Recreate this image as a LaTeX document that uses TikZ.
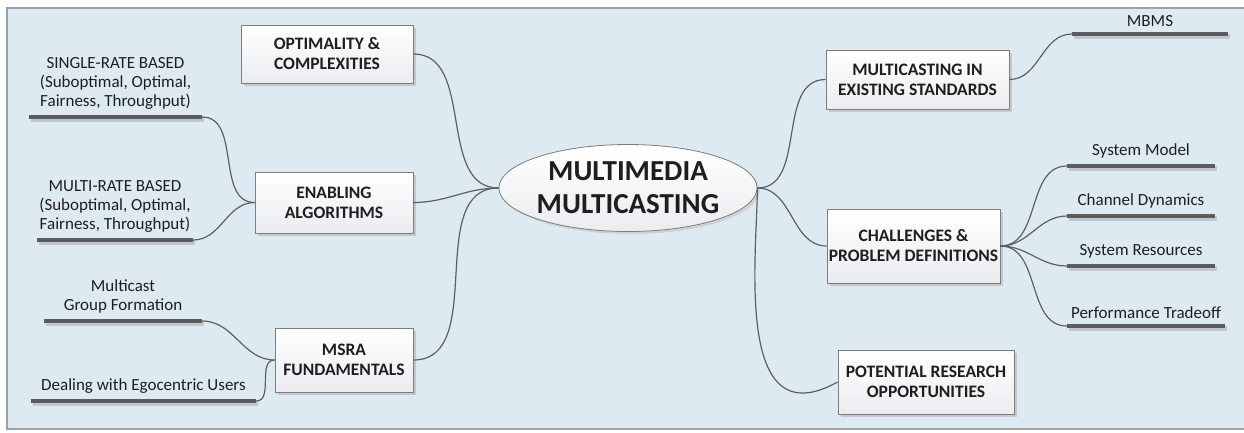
\documentclass[tikz,border=0pt]{standalone}
\usepackage{fontspec}
\setmainfont{Carlito}
\usetikzlibrary{shadows,shapes.geometric}
\definecolor{bgblue}{RGB}{222,234,242}
\definecolor{framegray}{RGB}{160,160,160}
\definecolor{conn}{RGB}{95,95,95}
\definecolor{barcol}{RGB}{92,92,92}
\definecolor{barshadow}{RGB}{192,199,206}
\definecolor{boxborder}{RGB}{125,125,125}
\definecolor{boxbottom}{RGB}{234,236,239}
\definecolor{txt}{RGB}{30,30,30}
\tikzset{
  topic/.style={draw=boxborder, line width=0.8pt, top color=white, bottom color=boxbottom,
    align=center, inner sep=0pt, text=txt,
    font=\fontsize{17.5}{20}\selectfont\bfseries,
    drop shadow={shadow xshift=2.5pt, shadow yshift=-2.5pt, fill=black!22, opacity=1}},
  centre/.style={ellipse, draw=boxborder, line width=0.8pt, top color=white, bottom color=boxbottom,
    align=center, inner sep=0pt, text=txt,
    font=\fontsize{29}{33}\selectfont\bfseries,
    drop shadow={shadow xshift=2.5pt, shadow yshift=-2.5pt, fill=black!18, opacity=1}},
  leafbar/.style={rectangle, fill=barcol, inner sep=0pt, minimum height=4.5pt,
    drop shadow={shadow xshift=1.5pt, shadow yshift=-2.5pt, fill=barshadow, opacity=1}},
  leaftext/.style={anchor=south, align=center, inner sep=0pt, text=txt,
    font=\fontsize{17}{19}\selectfont},
  link/.style={draw=conn, line width=1.2pt},
}
\begin{document}
\begin{tikzpicture}[x=1pt, y=-1pt]
\useasboundingbox (0,0) rectangle (1244,432);
% background frame
\fill[bgblue] (7,8) rectangle (1244,429);
\draw[framegray, line width=1.5pt] (1244,8) -- (7,8) -- (7,429) -- (1244,429);

% central
\node[centre, minimum width=251pt, minimum height=87pt] (c) at (628,188) {MULTIMEDIA\\MULTICASTING};

% topics
\node[topic, minimum width=172pt, minimum height=58pt] (opt) at (327,54) {OPTIMALITY \&\\COMPLEXITIES};
\node[topic, minimum width=158pt, minimum height=61pt] (ena) at (334,202.5) {ENABLING\\ALGORITHMS};
\node[topic, minimum width=138pt, minimum height=64pt] (msra) at (344,360) {MSRA\\FUNDAMENTALS};
\node[topic, minimum width=183pt, minimum height=59pt] (mul) at (917.5,79.5) {MULTICASTING IN\\EXISTING STANDARDS};
\node[topic, minimum width=173pt, minimum height=74pt] (cha) at (913.5,246) {CHALLENGES \&\\PROBLEM DEFINITIONS};
\node[topic, minimum width=176pt, minimum height=64pt] (pot) at (926,382) {POTENTIAL RESEARCH\\OPPORTUNITIES};

% leaf bars
\node[leafbar, minimum width=173pt] (lsr) at (115.5,117) {};
\node[leafbar, minimum width=156pt] (lmr) at (115,240) {};
\node[leafbar, minimum width=158pt] (lgf) at (123,321) {};
\node[leafbar, minimum width=225pt] (leg) at (143.5,401) {};
\node[leafbar, minimum width=156pt] (lmb) at (1150,34) {};
\node[leafbar, minimum width=148pt] (lsm) at (1141,166) {};
\node[leafbar, minimum width=148pt] (lcd) at (1141,216) {};
\node[leafbar, minimum width=148pt] (lrs) at (1141,266) {};
\node[leafbar, minimum width=158pt] (lpt) at (1146,326) {};

% leaf texts
\node[leaftext] (tsr) at ([yshift=5pt]lsr.north) {SINGLE-RATE BASED\\(Suboptimal, Optimal,\\Fairness, Throughput)};
\node[leaftext] (tmr) at ([yshift=5pt]lmr.north) {MULTI-RATE BASED\\(Suboptimal, Optimal,\\Fairness, Throughput)};
\node[leaftext] (tgf) at ([yshift=5pt]lgf.north) {Multicast\\Group Formation};
\node[leaftext] (teg) at ([yshift=5pt]leg.north) {Dealing with Egocentric Users};
\node[leaftext] (tmb) at ([yshift=5pt]lmb.north) {MBMS};
\node[leaftext] (tsm) at ([yshift=5pt]lsm.north) {System Model};
\node[leaftext] (tcd) at ([yshift=5pt]lcd.north) {Channel Dynamics};
\node[leaftext] (trs) at ([yshift=5pt]lrs.north) {System Resources};
\node[leaftext] (tpt) at ([yshift=5pt]lpt.north) {Performance Tradeoff};

% connectors centre
\draw[link] (opt.east) to[out=0,in=180] (c.west);
\draw[link] (ena.east) to[out=0,in=180] (c.west);
\draw[link] (msra.east) to[out=0,in=180] (c.west);
\draw[link] (c.east) to[out=0,in=180] (mul.west);
\draw[link] (c.east) to[out=0,in=180] (cha.west);
\draw[link] (c.east) .. controls +(-1,72) and +(-103,57) .. (pot.west);

% connectors leaves
\draw[link] (ena.west) to[out=180,in=0] (lsr.east);
\draw[link] (ena.west) to[out=180,in=0] (lmr.east);
\draw[link] (msra.west) to[out=180,in=0] (lgf.east);
\draw[link] (msra.west) to[out=180,in=0] (leg.east);
\draw[link] (mul.east) to[out=0,in=180] (lmb.west);
\draw[link] (cha.east) to[out=0,in=180] (lsm.west);
\draw[link] (cha.east) to[out=0,in=180] (lcd.west);
\draw[link] (cha.east) to[out=0,in=180] (lrs.west);
\draw[link] (cha.east) to[out=0,in=180] (lpt.west);
\end{tikzpicture}
\end{document}
